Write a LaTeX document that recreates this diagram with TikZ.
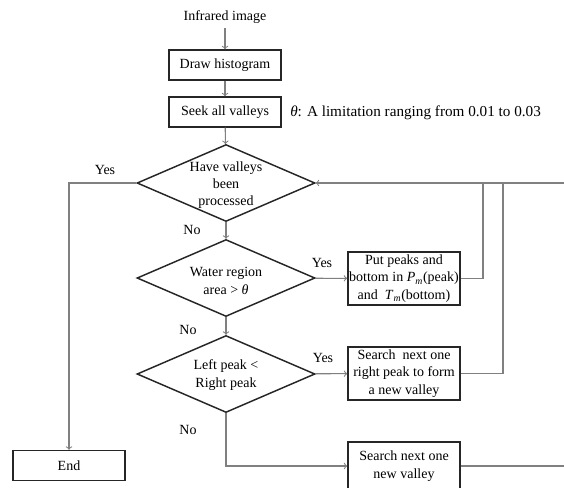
\documentclass[tikz,border=0pt]{standalone}
\usepackage{fontspec}
\setmainfont{Liberation Serif}
\usetikzlibrary{shapes.geometric}
\begin{document}
\begin{tikzpicture}[x=0.75pt, y=-0.75pt, font=\fontsize{10.5}{13}\selectfont,
	box/.style = {draw=black!85, line width=1.1pt, minimum width=84pt, minimum height=22.5pt, inner sep=1pt, align=center},
	tall/.style = {box, minimum height=39.75pt},
	dia/.style = {draw=black!85, line width=1.1pt, diamond, minimum width=133.5pt, minimum height=57.75pt, inner sep=0pt},
	conn/.style = {draw=black!50, line width=0.8pt},
	letter/.style = {inner sep=0pt}]
	
	\path[use as bounding box, clip] (0,0) rectangle (564,487);
	
	\node (1) at (225,17) {Infrared image};
	\node[box] (2) at (225,65) {Draw histogram};
	\node[box] (3) at (225,112) {Seek all valleys};
	\node[letter, anchor=west, font=\fontsize{11.4}{13}\selectfont] (th) at (290,113) {\textit{θ}: A limitation ranging from 0.01 to 0.03};
	\node[dia] (4) at (226,183) {};
	\node[letter, align=center] (t4) at (226,185) {Have valleys\\been\\processed};
	\node[dia] (5) at (226,278) {};
	\node[letter, align=center] (t5) at (226,281) {Water region\\area > \textit{θ}};
	\node[dia] (6) at (226,374) {};
	\node[letter, align=center] (t6) at (226,375) {Left peak <\\Right peak};
	\node[tall] (7) at (404,278.5) {Put peaks and\\bottom in \textit{P}\textsubscript{\textit{m}}(peak)\\and \ \textit{T}\textsubscript{\textit{m}}(bottom)};
	\node[tall] (8) at (404,373.5) {Search \ next one\\right peak to form\\a new valley};
	\node[tall, minimum height=36pt] (9) at (404,466) {Search next one\\new valley};
	\node[box] (10) at (69,465.5) {End};
	
	\coordinate (r1) at (570,183);
	\coordinate (r2) at (570,466);
	\coordinate (j1) at (483,183);
	\coordinate (j2) at (503,183);
	
	\draw[conn,->] (1) -- (2);
	\draw[conn,->] (2) -- (3);
	\draw[conn,->] (3) -- (4);
	\draw[conn,->] (4) -- (5);
	\draw[conn,->] (5) -- (6);
	\draw[conn,->] (5) -- (7);
	\draw[conn,->] (6) -- (8);
	\draw[conn,->] (6) |- (9);
	\draw[conn,->] (4) -| (10);
	\draw[conn] (7) -| (j1);
	\draw[conn] (8) -| (j2);
	\draw[conn,->] (r1) -- (4);
	\draw[conn] (9) -- (r2);
	
	\node[letter] (y1) at (105,170) {Yes};
	\node[letter] (n1) at (192,230) {No};
	\node[letter] (y2) at (322,263) {Yes};
	\node[letter] (n2) at (188,330) {No};
	\node[letter] (y3) at (323,358) {Yes};
	\node[letter] (n3) at (188,430) {No};
\end{tikzpicture}
\end{document}
